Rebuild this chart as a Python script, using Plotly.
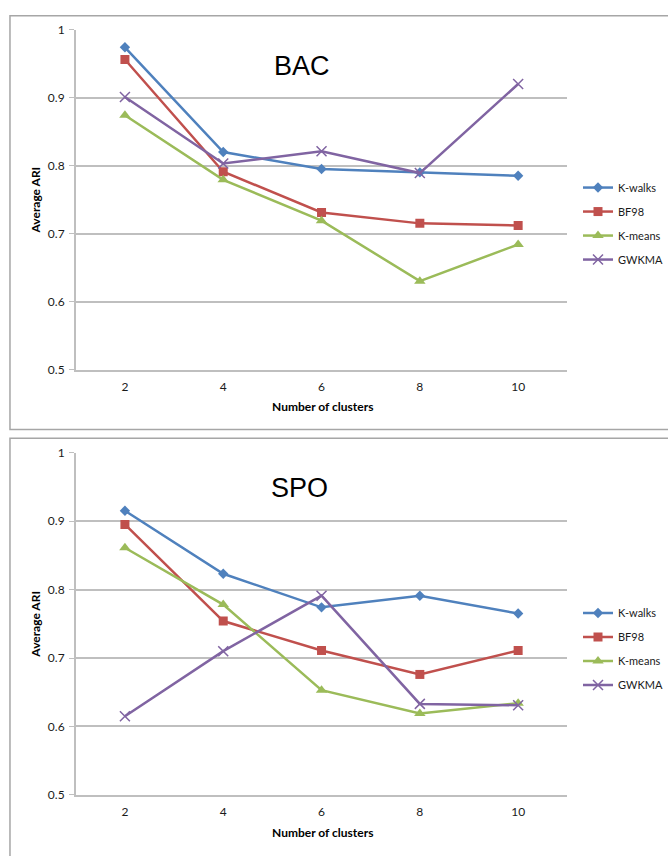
import plotly.graph_objects as go

W, H = 668, 856

clusters = [2, 4, 6, 8, 10]
series_names = ["K-walks", "BF98", "K-means", "GWKMA"]

bac_kwalks = [0.974, 0.820, 0.795, 0.790, 0.785]
bac_bf98 = [0.956, 0.791, 0.731, 0.715, 0.712]
bac_kmeans = [0.874, 0.779, 0.719, 0.630, 0.684]
bac_gwkma = [0.901, 0.803, 0.821, 0.789, 0.920]

spo_kwalks = [0.915, 0.823, 0.774, 0.791, 0.765]
spo_bf98 = [0.895, 0.754, 0.711, 0.676, 0.711]
spo_kmeans = [0.861, 0.778, 0.653, 0.619, 0.634]
spo_gwkma = [0.615, 0.710, 0.791, 0.633, 0.631]

y_ticks = [0.5, 0.6, 0.7, 0.8, 0.9, 1.0]
y_tick_labels = ["0.5", "0.6", "0.7", "0.8", "0.9", "1"]

colors = ["#4F81BD", "#C0504D", "#9BBB59", "#8064A2"]
symbols = ["diamond", "square", "triangle-up", "x-thin"]
msizes = [8, 9, 10, 10]

FONT = "Lato, Open Sans, sans-serif"
GRID = "#BFBFBF"
TXT = "#1a1a1a"

def py(px):
    return 1 - px / H

def px_x(px):
    return px / W

fig = go.Figure()

panels = [
    ("BAC", [bac_kwalks, bac_bf98, bac_kmeans, bac_gwkma], "x", "y", "legend"),
    ("SPO", [spo_kwalks, spo_bf98, spo_kmeans, spo_gwkma], "x2", "y2", "legend2"),
]

for title, data, xa, ya, lg in panels:
    for i, (name, vals) in enumerate(zip(series_names, data)):
        fig.add_trace(go.Scatter(
            x=clusters, y=vals, name=name, mode="lines+markers",
            xaxis=xa, yaxis=ya, legend=lg, legendgroup=name + lg,
            line=dict(color=colors[i], width=2.5),
            marker=dict(symbol=symbols[i], size=msizes[i], color=colors[i],
                        line=dict(color=colors[i], width=1.5 if symbols[i] == "x-thin" else 0)),
        ))

x_dom = [px_x(76), px_x(569)]

def xaxis_cfg(anchor):
    return dict(domain=x_dom, range=[1, 11], tickvals=clusters, ticks="",
                anchor=anchor, ticklabelstandoff=5,
                tickfont=dict(family=FONT, size=12, color=TXT),
                showline=True, linecolor=GRID, linewidth=1.5, showgrid=False,
                zeroline=False, fixedrange=True)

def yaxis_cfg(anchor, top, bot):
    return dict(domain=[py(bot), py(top)], range=[0.5, 1.0], tickvals=y_ticks,
                ticktext=y_tick_labels, ticks="outside", ticklen=5, tickcolor=GRID,
                anchor=anchor, showgrid=True, gridcolor=GRID, gridwidth=1.5,
                showline=True, linecolor=GRID, linewidth=1.5, zeroline=False,
                ticklabelstandoff=2,
                tickfont=dict(family=FONT, size=12, color=TXT), fixedrange=True)

LEG_FONT = dict(family=FONT, size=11, color=TXT)
fig.update_layout(
    xaxis=xaxis_cfg("y"),
    yaxis=yaxis_cfg("x", 22, 368),
    xaxis2=xaxis_cfg("y2"),
    yaxis2=yaxis_cfg("x2", 452.5, 801),
    legend=dict(x=px_x(580), y=py(168), xanchor="left", yanchor="top",
                font=LEG_FONT, tracegroupgap=5, itemwidth=30, bgcolor="rgba(0,0,0,0)"),
    legend2=dict(x=px_x(580), y=py(601), xanchor="left", yanchor="top",
                 font=LEG_FONT, tracegroupgap=5, itemwidth=30, bgcolor="rgba(0,0,0,0)"),
    width=W, height=H, margin=dict(l=0, r=0, t=0, b=0),
    paper_bgcolor="white", plot_bgcolor="white", showlegend=True,
)

annotations = []
for title, cx, cy, top, bot in [("BAC", 303, 59, 22, 368), ("SPO", 300, 489, 452.5, 801)]:
    annotations.append(dict(text=title, x=px_x(cx), y=py(cy), xref="paper", yref="paper",
                            showarrow=False, xanchor="center", yanchor="middle",
                            font=dict(family="Liberation Sans, Arial, sans-serif", size=27, color="black")))
    annotations.append(dict(text="<b>Number of clusters</b>", x=px_x(323), y=py(bot + 38), xref="paper", yref="paper",
                            showarrow=False, xanchor="center", yanchor="middle",
                            font=dict(family=FONT, size=12, color="black")))
    annotations.append(dict(text="<b>Average ARI</b>", x=px_x(36), y=py((top + bot) / 2), xref="paper", yref="paper",
                            showarrow=False, xanchor="center", yanchor="middle", textangle=-90,
                            font=dict(family=FONT, size=12, color="black")))
fig.update_layout(annotations=annotations)

shapes = [
    dict(type="rect", xref="paper", yref="paper", x0=px_x(10), x1=1.02, y0=py(429), y1=py(8),
         line=dict(color="#A6A6A6", width=1.5), fillcolor="rgba(0,0,0,0)", layer="below"),
    dict(type="rect", xref="paper", yref="paper", x0=px_x(10), x1=1.02, y0=-0.02, y1=py(438),
         line=dict(color="#A6A6A6", width=1.5), fillcolor="rgba(0,0,0,0)", layer="below"),
]
fig.update_layout(shapes=shapes)

fig.write_html("out.html")
